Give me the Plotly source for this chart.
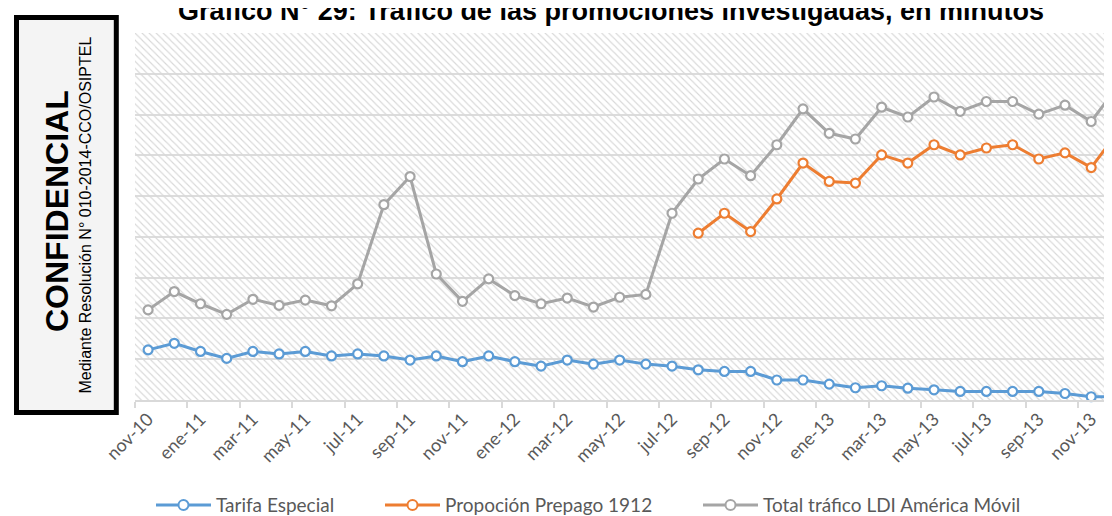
import plotly.graph_objects as go

# ---------------- data ----------------
months = ["nov-10", "dic-10", "ene-11", "feb-11", "mar-11", "abr-11", "may-11", "jun-11",
          "jul-11", "ago-11", "sep-11", "oct-11", "nov-11", "dic-11", "ene-12", "feb-12",
          "mar-12", "abr-12", "may-12", "jun-12", "jul-12", "ago-12", "sep-12", "oct-12",
          "nov-12", "dic-12", "ene-13", "feb-13", "mar-13", "abr-13", "may-13", "jun-13",
          "jul-13", "ago-13", "sep-13", "oct-13", "nov-13", "dic-13"]

tarifa_especial = [1.23, 1.39, 1.19, 1.02, 1.19, 1.13, 1.19, 1.08, 1.13, 1.08,
                   0.98, 1.08, 0.94, 1.08, 0.94, 0.83, 0.98, 0.88, 0.98, 0.88,
                   0.83, 0.74, 0.70, 0.70, 0.49, 0.49, 0.39, 0.30, 0.35, 0.29,
                   0.25, 0.21, 0.21, 0.21, 0.21, 0.16, 0.08, 0.08]

prepago_1912 = [None] * 21 + [4.09, 4.58, 4.13, 4.93, 5.81, 5.36, 5.32, 6.01, 5.81,
                              6.26, 6.01, 6.18, 6.26, 5.91, 6.06, 5.70, 6.55]

total_ldi = [2.21, 2.66, 2.36, 2.10, 2.47, 2.32, 2.45, 2.31, 2.85, 4.79,
             5.48, 3.09, 2.42, 2.97, 2.56, 2.36, 2.50, 2.28, 2.52, 2.59,
             4.58, 5.42, 5.91, 5.50, 6.26, 7.14, 6.54, 6.40, 7.18, 6.94,
             7.43, 7.08, 7.32, 7.32, 7.01, 7.23, 6.83, 7.68]

series_names = ["Tarifa Especial", "Propoción Prepago 1912", "Total tráfico LDI América Móvil"]
series_colors = ["#5B9BD5", "#ED7D31", "#A5A5A5"]
series_values = [tarifa_especial, prepago_1912, total_ldi]

title_text = "Gráfico N° 29: Tráfico de las promociones investigadas, en minutos"

# ---------------- layout geometry ----------------
W, H = 1112, 516
L, R, T, B = 127, 0, 25, 124
PW, PH = W - L - R, H - T - B
plot_bottom = H - B

x_range = [-0.5, 37.1]
y_range = [0, 9]

def px_x(px):
    return (px - L) / PW

def px_y(py):
    return (plot_bottom - py) / PH

xi = list(range(len(months)))

fig = go.Figure()

# hatched plot-area background
fig.add_trace(go.Scatter(
    x=[x_range[0], x_range[1], x_range[1], x_range[0], x_range[0]],
    y=[y_range[0], y_range[0], y_range[1], y_range[1], y_range[0]],
    mode="lines", line=dict(width=0), fill="toself",
    fillcolor="rgba(0,0,0,0)",
    fillpattern=dict(shape="\\", fgcolor="#d8d8d8", bgcolor="rgba(0,0,0,0)",
                     size=5, solidity=0.22, fillmode="replace"),
    hoverinfo="skip", showlegend=False))

for name, color, vals in zip(series_names, series_colors, series_values):
    fig.add_trace(go.Scatter(
        x=xi, y=vals, name=name, mode="lines+markers",
        line=dict(color=color, width=3),
        marker=dict(symbol="circle", size=9, color="white",
                    line=dict(color=color, width=2.2)),
        connectgaps=False, showlegend=False, cliponaxis=False))

fig.update_xaxes(
    range=x_range, showgrid=False, zeroline=False,
    showline=True, linecolor="#d9d9d9", linewidth=1.5,
    tickmode="array", tickvals=xi[::2], ticktext=months[::2],
    ticks="", tickangle=-45,
    tickfont=dict(family="Lato", size=18, color="#595959"),
    minor=dict(tickmode="array", tickvals=[v - 0.5 for v in xi[::2]],
               ticks="outside", ticklen=6, tickcolor="#d9d9d9", tickwidth=1.5,
               showgrid=False),
)
fig.update_yaxes(
    range=y_range, dtick=1, showticklabels=False, showgrid=True,
    gridcolor="#dcdcdc", gridwidth=1.5, zeroline=False, showline=False, ticks="",
)

shapes = []
annotations = []

# confidential box
shapes.append(dict(type="rect", xref="paper", yref="paper",
                   x0=px_x(8.5), x1=px_x(108.3), y0=px_y(404.5), y1=px_y(9.5),
                   line=dict(color="black", width=5), fillcolor="#f4f4f4", layer="above"))
annotations.append(dict(text="<b>CONFIDENCIAL</b>", xref="paper", yref="paper",
                        x=px_x(49), y=px_y(203), xanchor="center", yanchor="middle",
                        textangle=-90, showarrow=False,
                        font=dict(family="Liberation Sans", size=32, color="black")))
annotations.append(dict(text="Mediante Resolución N° 010-2014-CCO/OSIPTEL",
                        xref="paper", yref="paper",
                        x=px_x(77), y=px_y(207.5), xanchor="center", yanchor="middle",
                        textangle=-90, showarrow=False,
                        font=dict(family="Liberation Sans", size=16, color="black")))

# title (top partly cut by the figure edge, as in the reference)
annotations.append(dict(text="<b>" + title_text + "</b>", xref="paper", yref="paper",
                        x=px_x(602.5), y=px_y(3), xanchor="center", yanchor="middle",
                        showarrow=False,
                        font=dict(family="Liberation Sans", size=27, color="black")))

# manual legend
leg_y = 497
leg_starts = [148, 377, 695]
for name, color, x0 in zip(series_names, series_colors, leg_starts):
    shapes.append(dict(type="line", xref="paper", yref="paper",
                       x0=px_x(x0), x1=px_x(x0 + 55), y0=px_y(leg_y), y1=px_y(leg_y),
                       line=dict(color=color, width=3)))
    cx = x0 + 27.5
    shapes.append(dict(type="circle", xref="paper", yref="paper",
                       x0=px_x(cx - 5), x1=px_x(cx + 5), y0=px_y(leg_y + 5), y1=px_y(leg_y - 5),
                       line=dict(color=color, width=2), fillcolor="white"))
    annotations.append(dict(text=name, xref="paper", yref="paper",
                            x=px_x(x0 + 58), y=px_y(leg_y), xanchor="left", yanchor="middle",
                            showarrow=False,
                            font=dict(family="Lato", size=19, color="#595959")))

fig.update_layout(
    width=W, height=H,
    margin=dict(l=L, r=R, t=T, b=B, pad=0),
    paper_bgcolor="white", plot_bgcolor="white",
    shapes=shapes, annotations=annotations, showlegend=False,
)

fig.write_html("out.html")
